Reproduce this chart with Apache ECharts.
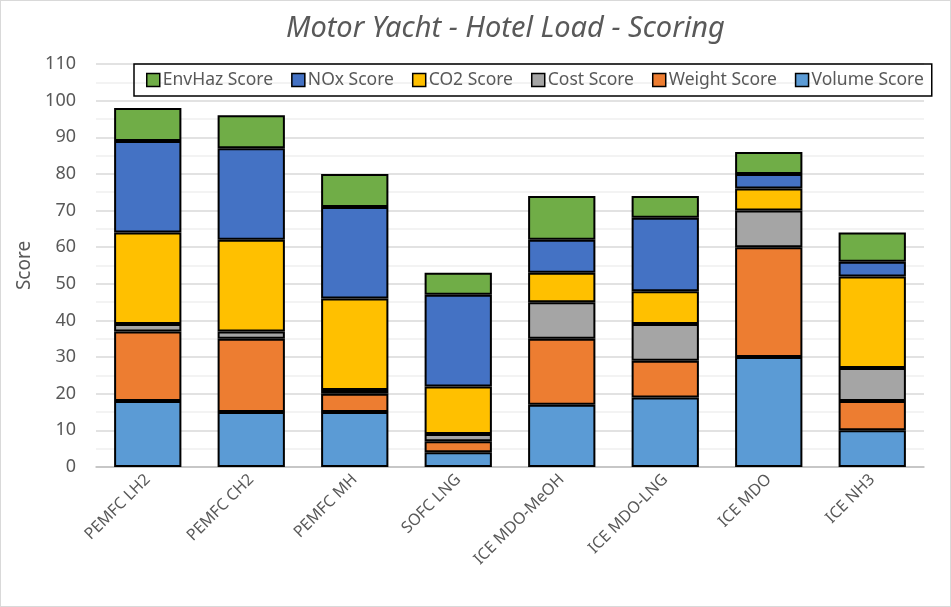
<!DOCTYPE html>
<html>
<head>
<meta charset="utf-8">
<script src="https://cdn.jsdelivr.net/npm/echarts@6/dist/echarts.min.js"></script>
<style>
  html, body { margin: 0; padding: 0; background: #fff; }
  #chart { width: 951px; height: 607px; box-sizing: border-box; border: 1px solid #d9d9d9; }
</style>
</head>
<body>
<div id="chart"></div>
<script>
const categories = ['PEMFC LH2', 'PEMFC CH2', 'PEMFC MH', 'SOFC LNG', 'ICE MDO-MeOH', 'ICE MDO-LNG', 'ICE MDO', 'ICE NH3']

// stacked segment values
const volumeScore = [18, 15, 15, 4, 17, 19, 30, 10]
const weightScore = [19, 20, 5, 3, 18, 10, 30, 8]
const costScore = [2, 2, 1, 2, 10, 10, 10, 9]
const co2Score = [25, 25, 25, 13, 8, 9, 6, 25]
const noxScore = [25, 25, 25, 25, 9, 20, 4, 4]
const envHazScore = [9, 9, 9, 6, 12, 6, 6, 8]

const font = 'Noto Sans, sans-serif'
const textColor = '#595959'

const chart = echarts.init(document.getElementById('chart'))

const makeSeries = (name, data, color) => ({
  name,
  type: 'bar',
  stack: 'total',
  data,
  barCategoryGap: '35%',
  itemStyle: { color, borderColor: '#000', borderWidth: 2 },
  emphasis: { disabled: true }
})

const option = {
  animation: false,
  title: {
    text: 'Motor Yacht - Hotel Load - Scoring',
    left: 280,
    top: 8,
    textStyle: { fontFamily: font, fontStyle: 'italic', fontWeight: 'normal', fontSize: 29, color: textColor }
  },
  legend: {
    data: ['EnvHaz Score', 'NOx Score', 'CO2 Score', 'Cost Score', 'Weight Score', 'Volume Score'],
    left: 133,
    top: 63,
    width: 810,
    borderColor: '#000',
    borderWidth: 1.5,
    padding: [7, 8, 7, 12],
    itemGap: 18,
    itemWidth: 13,
    itemHeight: 13,
    icon: 'rect',
    itemStyle: { borderColor: '#000', borderWidth: 1.5 },
    textStyle: { fontFamily: font, fontSize: 17.5, color: textColor, padding: [0, 0, 0, -2] }
  },
  grid: { left: 95, right: 26, top: 63, bottom: 139, containLabel: false },
  xAxis: {
    type: 'category',
    data: categories,
    axisLine: { lineStyle: { color: '#bfbfbf', width: 1.5 } },
    axisTick: { show: false },
    axisLabel: { rotate: 45, interval: 0, margin: 10, fontFamily: font, fontSize: 16, color: textColor }
  },
  yAxis: {
    type: 'value',
    min: 0,
    max: 110,
    interval: 10,
    name: 'Score',
    nameLocation: 'middle',
    nameGap: 46,
    nameTextStyle: { fontFamily: font, fontSize: 19, color: textColor },
    axisLine: { show: false },
    axisTick: { show: false },
    axisLabel: { fontFamily: font, fontSize: 18, color: textColor, margin: 20 },
    splitLine: { lineStyle: { color: '#d9d9d9', width: 1.5 } },
    minorTick: { show: false, splitNumber: 2 },
    minorSplitLine: { show: true, lineStyle: { color: '#f0f0f0', width: 1.5 } }
  },
  series: [
    makeSeries('Volume Score', volumeScore, '#5B9BD5'),
    makeSeries('Weight Score', weightScore, '#ED7D31'),
    makeSeries('Cost Score', costScore, '#A5A5A5'),
    makeSeries('CO2 Score', co2Score, '#FFC000'),
    makeSeries('NOx Score', noxScore, '#4472C4'),
    makeSeries('EnvHaz Score', envHazScore, '#70AD47')
  ]
}

chart.setOption(option)
</script>
</body>
</html>
